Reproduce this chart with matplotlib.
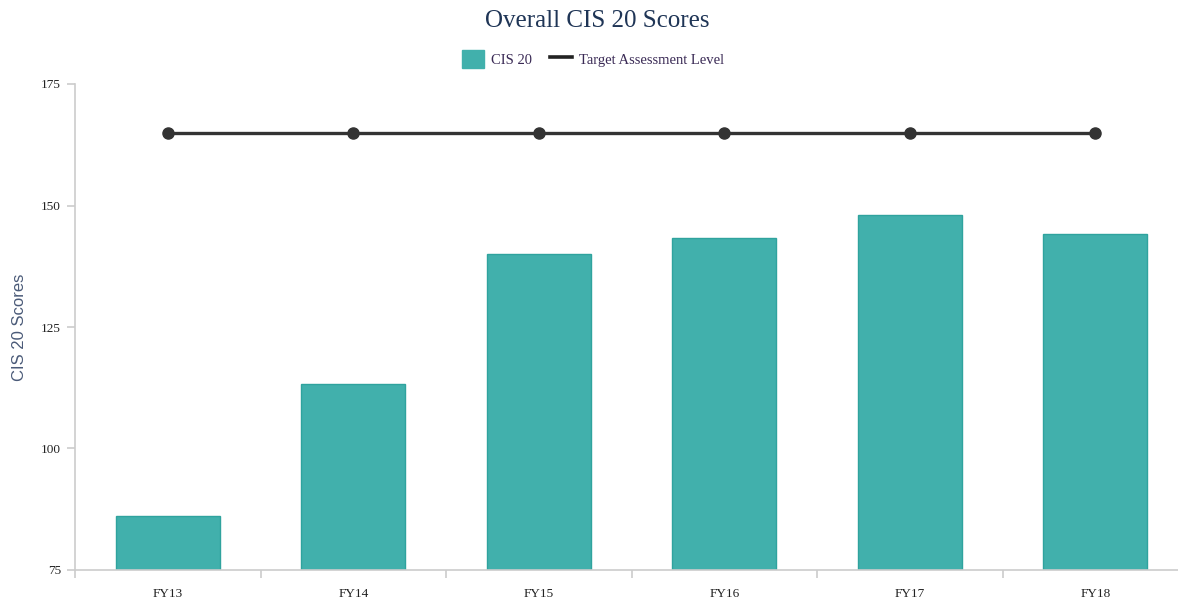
import numpy as np
from matplotlib import pyplot as plt
from matplotlib.lines import Line2D
from matplotlib.patches import Patch

# données du graphique
years = ['FY13', 'FY14', 'FY15', 'FY16', 'FY17', 'FY18']
cis20 = [86.1, 113.3, 140.0, 143.4, 148.0, 144.2]
target = [165, 165, 165, 165, 165, 165]
yticks = [75, 100, 125, 150, 175]

teal = '#41b0ac'
grey = '#cccccc'
serif = ['Liberation Serif', 'DejaVu Serif']

fig = plt.figure(figsize=(11.78, 6.03), dpi=100)
ax = fig.add_axes([75/1178, 33/603, 1113/1178, 486/603])

x = np.arange(len(years))
ax.bar(x, [v - 75 for v in cis20], bottom=75, width=0.56, color=teal,
       edgecolor='#2fa39e', linewidth=1, zorder=2)
ax.plot(x, target, color='#333333', linewidth=2.4, marker='o', markersize=8,
        zorder=3)

ax.set_xlim(-0.5, 5.5)
ax.set_ylim(75, 175)
ax.set_yticks(yticks)
ax.set_xticks(x)
ax.set_xticklabels(years)
ax.set_xticks(np.arange(-0.5, 6.0, 1), minor=True)
ax.tick_params(axis='x', which='major', length=0, pad=13)
ax.tick_params(axis='x', which='minor', length=6, color=grey, width=1.2)
ax.tick_params(axis='y', length=6, color=grey, width=1.2, pad=4)
for lab in ax.get_xticklabels() + ax.get_yticklabels():
    lab.set_family(serif)
    lab.set_fontsize(9.5)
    lab.set_color('#222222')

for s in ['top', 'right']:
    ax.spines[s].set_visible(False)
for s in ['left', 'bottom']:
    ax.spines[s].set_color(grey)
    ax.spines[s].set_linewidth(1.2)

ax.set_ylabel('CIS 20 Scores', family=['Liberation Sans', 'DejaVu Sans'],
              fontsize=12, color='#4a5a78')
ax.yaxis.set_label_coords(-0.043, 0.5)

fig.text(597/1178, 1 - 21/603, 'Overall CIS 20 Scores', family=serif,
         fontsize=18, color='#1f3556', ha='center', va='center')

handles = [Patch(facecolor=teal, edgecolor=teal),
           Line2D([0], [0], color='#222222', linewidth=2.6)]
leg = fig.legend(handles, ['CIS 20', 'Target Assessment Level'],
                 loc='center', bbox_to_anchor=(593/1178, 1 - 59/603), ncol=2,
                 frameon=False, prop={'family': serif, 'size': 10.5},
                 handlelength=1.5, handleheight=1.5, columnspacing=1.2,
                 handletextpad=0.5)
for t in leg.get_texts():
    t.set_color('#3a2a55')

fig.savefig('out.png', dpi=100)
